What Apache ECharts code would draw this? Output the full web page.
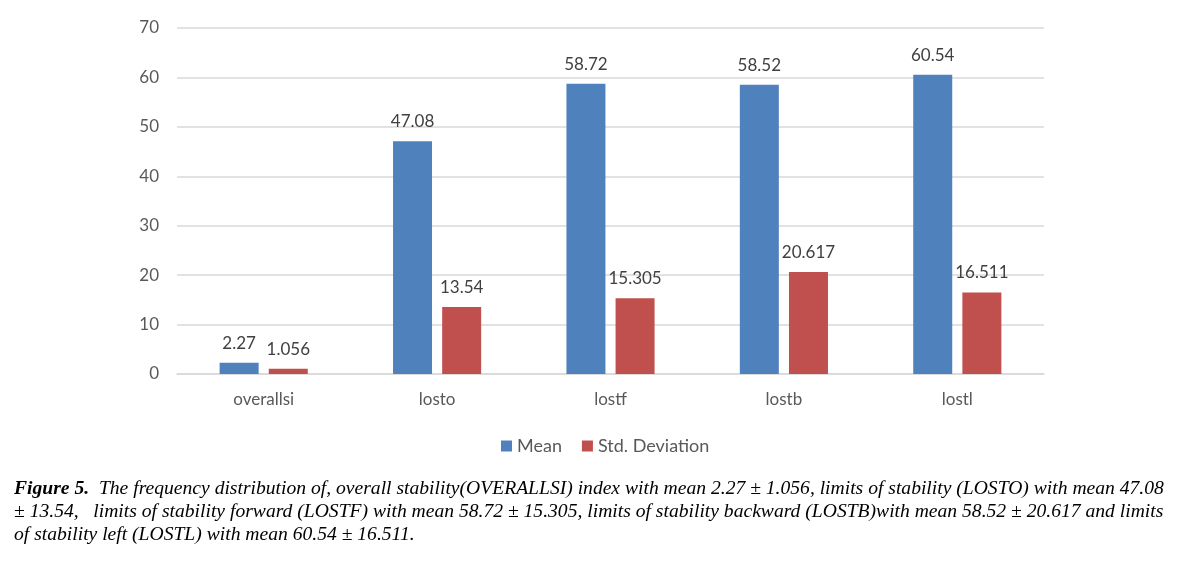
<!DOCTYPE html>
<html>
<head>
<meta charset="utf-8">
<style>
html,body{margin:0;padding:0;background:#fff;}
#chart{width:1177px;height:562px;}
</style>
<script src="https://cdn.jsdelivr.net/npm/echarts@6/dist/echarts.min.js"></script>
</head>
<body>
<div id="chart"></div>
<script>
const categories = ['overallsi', 'losto', 'lostf', 'lostb', 'lostl'];
const meanValues = [2.27, 47.08, 58.72, 58.52, 60.54];
const sdValues = [1.056, 13.54, 15.305, 20.617, 16.511];
const seriesNames = ['Mean', 'Std. Deviation'];
const captionLines = [
  ['Figure 5.', '  The frequency distribution of, overall stability(OVERALLSI) index with mean 2.27 \u00b1 1.056, limits of stability (LOSTO) with mean 47.08'],
  ['', '\u00b1 13.54,   limits of stability forward (LOSTF) with mean 58.72 \u00b1 15.305, limits of stability backward (LOSTB)with mean 58.52 \u00b1 20.617 and limits'],
  ['', 'of stability left (LOSTL) with mean 60.54 \u00b1 16.511.']
];

const chart = echarts.init(document.getElementById('chart'), null, {renderer: 'canvas'});
const font = 'Lato, "Open Sans", sans-serif';
const labelStyle = {show: true, position: 'top', distance: 11, color: '#404040', fontSize: 17, fontFamily: font};

const captionGraphics = captionLines.map((ln, i) => ({
  type: 'text',
  left: 14,
  top: 479 + i * 23,
  style: {
    text: (ln[0] ? '{b|' + ln[0] + '}' : '') + '{i|' + ln[1] + '}',
    rich: {
      b: {font: 'italic bold 19.6px "Liberation Serif", "Times New Roman", serif', fill: '#000'},
      i: {font: 'italic 19.6px "Liberation Serif", "Times New Roman", serif', fill: '#000'}
    }
  }
}));

chart.setOption({
  animation: false,
  grid: {left: 177, right: 133, top: 28, bottom: 188, containLabel: false},
  legend: {
    data: seriesNames,
    left: 496,
    top: 432,
    itemWidth: 11,
    itemHeight: 11,
    itemGap: 20,
    icon: 'rect',
    textStyle: {color: '#595959', fontSize: 18, fontFamily: font}
  },
  xAxis: {
    type: 'category',
    data: categories,
    axisLine: {lineStyle: {color: '#D9D9D9', width: 1.5}},
    axisTick: {show: false},
    axisLabel: {color: '#595959', fontSize: 17, fontFamily: font, margin: 17}
  },
  yAxis: {
    type: 'value',
    min: 0,
    max: 70,
    interval: 10,
    axisLine: {show: false},
    axisTick: {show: false},
    axisLabel: {color: '#595959', fontSize: 17, fontFamily: font, margin: 18},
    splitLine: {lineStyle: {color: '#D9D9D9', width: 1.5}}
  },
  series: [
    {name: seriesNames[0], type: 'bar', data: meanValues, barWidth: 39, barGap: '26%', itemStyle: {color: '#4F81BD'}, label: labelStyle},
    {name: seriesNames[1], type: 'bar', data: sdValues, barWidth: 39, itemStyle: {color: '#C0504D'}, label: labelStyle}
  ],
  graphic: captionGraphics
});
</script>
</body>
</html>
